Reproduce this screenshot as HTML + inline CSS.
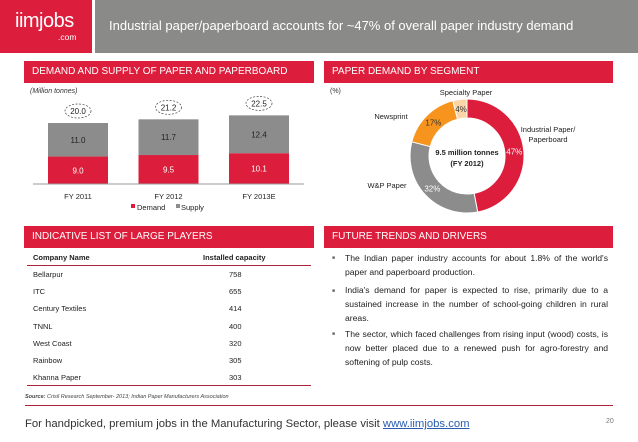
<!DOCTYPE html>
<html><head><meta charset="utf-8"><style>
body{margin:0;width:638px;height:442px;background:#fff;font-family:"Liberation Sans",sans-serif;position:relative;overflow:hidden}
.a{position:absolute}
.hdr{position:absolute;background:#dc1e3c;color:#fff;font-size:10px;line-height:22px;padding-left:8px;box-sizing:border-box;height:22px}
.row{position:absolute;left:33px;font-size:7.5px;color:#222}
.val{position:absolute;left:229px;font-size:7.5px;color:#222}
.bl{position:absolute;left:332px;font-size:5px;color:#666}
.bt{position:absolute;left:345px;width:263px;font-size:8.6px;line-height:14px;color:#222;text-align:justify}
</style></head><body>
<div class="a" style="left:0;top:0;width:92px;height:53px;background:#dc1e3c"></div>
<div class="a" style="left:15px;top:10px;color:#fff;font-size:20px;letter-spacing:-0.5px">iimjobs</div>
<div class="a" style="left:58px;top:32px;color:#fff;font-size:8.5px">.com</div>
<div class="a" style="left:95px;top:0;width:543px;height:53px;background:#8a8a88"></div>
<div class="a" style="left:109px;top:18px;color:#fff;font-size:13px">Industrial paper/paperboard accounts for ~47% of overall paper industry demand</div>

<div class="hdr" style="left:24px;top:61px;width:290px">DEMAND AND SUPPLY OF PAPER AND PAPERBOARD</div>
<div class="hdr" style="left:324px;top:61px;width:289px">PAPER DEMAND BY SEGMENT</div>
<div class="hdr" style="left:24px;top:226px;width:290px">INDICATIVE LIST OF LARGE PLAYERS</div>
<div class="hdr" style="left:324px;top:226px;width:289px">FUTURE TRENDS AND DRIVERS</div>

<div class="a" style="left:30px;top:88px;font-size:7px;font-style:italic;color:#333">(Million tonnes)</div>
<div class="a" style="left:330px;top:88px;font-size:7px;color:#333">(%)</div>

<svg class="a" style="left:0;top:0" width="638" height="442" id="charts"></svg>

<div class="a" style="left:33px;top:253px;font-size:7.5px;font-weight:bold;color:#222">Company Name</div>
<div class="a" style="left:203px;top:253px;font-size:7.5px;font-weight:bold;color:#222">Installed capacity</div>
<div class="a" style="left:27px;top:265px;width:284px;height:1px;background:#b0243a"></div>
<div class="a" style="left:27px;top:385px;width:284px;height:1px;background:#b0243a"></div>
<div id="rows"></div>

<div class="bl" style="top:255px">■</div>
<div class="bt" style="top:251px">The Indian paper industry accounts for about 1.8% of the world's paper and paperboard production.</div>
<div class="bl" style="top:288px">■</div>
<div class="bt" style="top:283px">India's demand for paper is expected to rise, primarily due to a sustained increase in the number of school-going children in rural areas.</div>
<div class="bl" style="top:331px">■</div>
<div class="bt" style="top:327px">The sector, which faced challenges from rising input (wood) costs, is now better placed due to a renewed push for agro-forestry and softening of pulp costs.</div>

<div class="a" style="left:25px;top:394px;font-size:5.5px;font-style:italic;color:#444"><b>Source:</b> Crisil Research September- 2013; Indian Paper Manufacturers Association</div>
<div class="a" style="left:25px;top:405px;width:588px;height:1px;background:#b0243a"></div>
<div class="a" style="left:25px;top:418px;font-size:11.3px;color:#333">For handpicked, premium jobs in the Manufacturing Sector, please visit <span style="color:#2a5db0;text-decoration:underline">www.iimjobs.com</span></div>
<div class="a" style="left:606px;top:418px;font-size:7px;color:#777">20</div>

<script>
const categories=["FY 2011","FY 2012","FY 2013E"];
const demand=[9.0,9.5,10.1];
const supply=[11.0,11.7,12.4];
const totals=[20.0,21.2,22.5];
const segments=["Industrial Paper/ Paperboard","W&P Paper","Newsprint","Specialty Paper"];
const segShares=[47,32,17,4];
const companies=["Bellarpur","ITC","Century Textiles","TNNL","West Coast","Rainbow","Khanna Paper"];
const capacities=[758,655,414,400,320,305,303];

const NS="http://www.w3.org/2000/svg";
const svg=document.getElementById('charts');
function mk(t,a,txt){const e=document.createElementNS(NS,t);for(const k in a)e.setAttribute(k,a[k]);if(txt!=null)e.textContent=txt;svg.appendChild(e);return e;}
const RED="#dc1e3c",GRAY="#8c8c8c";
const base=184,pxPer=3.05;
const y=v=>base-v*pxPer;
const xs=i=>48+i*90.5;
const bw=60;
categories.forEach((c,i)=>{
  const x=xs(i);
  let r=mk('rect',{x:x,y:y(demand[i]),width:bw,height:base-y(demand[i]),fill:RED});
  
  r=mk('rect',{x:x,y:y(demand[i]+supply[i]),width:bw,height:y(demand[i])-y(demand[i]+supply[i]),fill:GRAY});
  
  let t=mk('text',{x:x+bw/2,y:(base+y(demand[i]))/2+3,'font-size':8,fill:'#fff','text-anchor':'middle'},demand[i].toFixed(1));
  
  t=mk('text',{x:x+bw/2,y:(y(demand[i])+y(demand[i]+supply[i]))/2+3,'font-size':8,fill:'#222','text-anchor':'middle'},supply[i].toFixed(1));
  
  const ty=y(totals[i])-12;
  let e=mk('ellipse',{cx:x+bw/2,cy:ty,rx:13,ry:7,fill:'#fff',stroke:'#444','stroke-dasharray':'2,1.5','stroke-width':0.7});
  
  t=mk('text',{x:x+bw/2,y:ty+3,'font-size':8,fill:'#222','text-anchor':'middle'},totals[i].toFixed(1));
  
  t=mk('text',{x:x+bw/2,y:199,'font-size':7.5,fill:'#222','text-anchor':'middle'},c);
  
});
let ax=mk('line',{x1:33,x2:304,y1:base,y2:base,stroke:'#999','stroke-width':1});

let lg=mk('rect',{x:131,y:204,width:4,height:4,fill:RED});
lg=mk('text',{x:137,y:210,'font-size':7.5,fill:'#222'},'Demand');
lg=mk('rect',{x:176,y:204,width:4,height:4,fill:GRAY});
lg=mk('text',{x:181,y:210,'font-size':7.5,fill:'#222'},'Supply');

const cx=467,cy=156,R=57,r0=38;
const cols=[RED,GRAY,"#f7941d","#fbd5a5"];
const lblCol=["#fff","#fff","#333","#333"];
const total=segShares.reduce((a,b)=>a+b,0);
let acc=0;
const pt=(a,rr)=>[cx+rr*Math.sin(a),cy-rr*Math.cos(a)];
segShares.forEach((v,i)=>{
  const a0=acc/total*2*Math.PI;acc+=v;const a1=acc/total*2*Math.PI;
  const large=(a1-a0)>Math.PI?1:0;
  const [x0,y0]=pt(a0,R),[x1,y1]=pt(a1,R),[x2,y2]=pt(a1,r0),[x3,y3]=pt(a0,r0);
  const p=mk('path',{d:`M${x0},${y0}A${R},${R} 0 ${large} 1 ${x1},${y1}L${x2},${y2}A${r0},${r0} 0 ${large} 0 ${x3},${y3}Z`,fill:cols[i],stroke:'#fff','stroke-width':1});
  
  const am=(a0+a1)/2;const [lx,ly]=pt(am,(R+r0)/2);
  const t=mk('text',{x:lx,y:ly+3,'font-size':8,fill:lblCol[i],'text-anchor':'middle'},v+'%');
  
});
const outer=[[548,132,'Industrial Paper/'],[548,142,'Paperboard'],[387,188,'W&P Paper'],[391,119,'Newsprint'],[466,95,'Specialty Paper']];
outer.forEach((o,i)=>{const t=mk('text',{x:o[0],y:o[1],'font-size':7.5,fill:'#222','text-anchor':'middle'},o[2]);
  });
let c=mk('text',{x:cx,y:cy-1,'font-size':7.5,'font-weight':'bold',fill:'#222','text-anchor':'middle'},'9.5 million tonnes');

c=mk('text',{x:cx,y:cy+10,'font-size':7.5,'font-weight':'bold',fill:'#222','text-anchor':'middle'},'(FY 2012)');


const rows=document.getElementById('rows');
companies.forEach((n,i)=>{
  const top=270+i*17.2;
  const a=document.createElement('div');a.className='row';a.style.top=top+'px';a.textContent=n;
  
  
  rows.appendChild(a);
  const b=document.createElement('div');b.className='val';b.style.top=top+'px';b.textContent=capacities[i];
  
  
  rows.appendChild(b);
});
</script>
</body></html>
